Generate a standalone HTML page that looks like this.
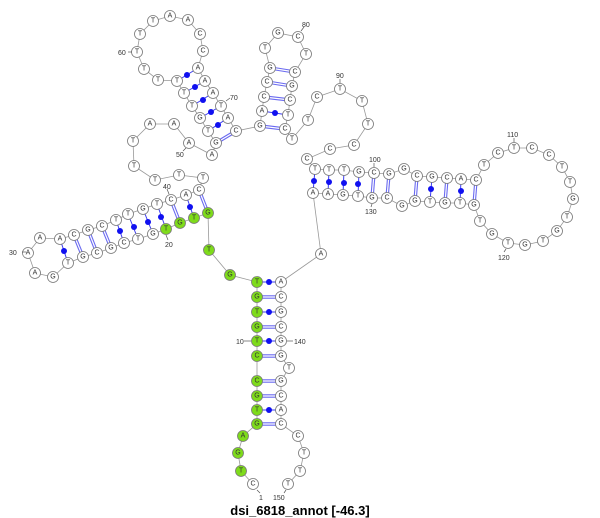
<!DOCTYPE html>
<html><head><meta charset="utf-8"><style>
body{margin:0;background:#fff;width:600px;height:518px;overflow:hidden}
svg{display:block}
.n circle{fill:#fff;stroke:#777;stroke-width:0.8}
.g circle{fill:#7edb1b;stroke:#777;stroke-width:0.8}
text{font-family:"Liberation Sans",sans-serif}
.n text,.g text{font-size:7px;text-anchor:middle;dominant-baseline:central;fill:#333}
.lb{font-size:7px;fill:#333}
.d1{stroke:#6a6af0;stroke-width:3.4}
.d2{stroke:#fff;stroke-width:1.2}
.s{stroke:#3b3bf0;stroke-width:1}
</style></head><body>
<svg width="600" height="518" viewBox="0 0 600 518">
<polyline fill="none" stroke="#999" stroke-width="0.8" points="253,484 241,471 238,453 243,436 257,424 257,410 257,396 257,381 257,356 257,341 257,327 257,312 257,297 257,282 230,275 209,250 208,213 194,218 180,223 166,229 153,234 138,239 124,243 111,248 97,253 83,257 68,263 53,277 35,273 28,253 40,238 60,239 74,235 88,230 102,226 116,220 128,214 143,209 157,204 171,200 186,195 199,190 203,178 179,175 155,180 134,166 133,141 150,124 174,124 189,143 212,155 216,143 208,131 200,118 192,106 184,93 177,81 158,80 144,69 137,52 140,34 153,21 170,16 188,20 200,34 203,51 198,68 205,81 213,93 221,106 228,118 236,131 260,126 262,111 264,97 267,82 270,68 265,48 278,33 298,37 306,54 295,72 292,86 290,100 288,115 285,129 292,139 308,120 317,97 340,89 362,101 368,124 354,145 330,149 307,159 315,169 329,170 344,170 359,172 374,173 389,174 404,169 417,176 432,177 447,178 461,179 476,180 484,165 498,153 514,148 532,148 549,155 562,167 570,182 573,199 567,217 557,231 543,241 525,245 508,243 492,234 480,221 474,205 460,203 445,203 430,202 415,201 402,206 387,198 372,198 358,196 343,195 328,194 313,193 321,254 281,282 281,297 281,312 281,327 281,341 281,356 289,368 281,381 281,396 281,410 281,424 298,436 304,453 300,471 288,484"/>
<!-- double pairs -->
<g class="d1">
<line x1="257" y1="424" x2="281" y2="424"/><line x1="257" y1="396" x2="281" y2="396"/><line x1="257" y1="381" x2="281" y2="381"/><line x1="257" y1="356" x2="281" y2="356"/><line x1="257" y1="327" x2="281" y2="327"/><line x1="257" y1="297" x2="281" y2="297"/>
<line x1="208" y1="213" x2="199" y2="190"/><line x1="180" y1="223" x2="171" y2="200"/><line x1="111" y1="248" x2="102" y2="226"/><line x1="97" y1="253" x2="88" y2="230"/><line x1="83" y1="257" x2="74" y2="235"/>
<line x1="216" y1="143" x2="236" y2="131"/>
<line x1="260" y1="126" x2="285" y2="129"/><line x1="264" y1="97" x2="290" y2="100"/><line x1="267" y1="82" x2="292" y2="86"/><line x1="270" y1="68" x2="295" y2="72"/>
<line x1="374" y1="173" x2="372" y2="198"/><line x1="389" y1="174" x2="387" y2="198"/><line x1="417" y1="176" x2="415" y2="201"/><line x1="447" y1="178" x2="445" y2="203"/><line x1="476" y1="180" x2="474" y2="205"/>
</g>
<g class="d2">
<line x1="257" y1="424" x2="281" y2="424"/><line x1="257" y1="396" x2="281" y2="396"/><line x1="257" y1="381" x2="281" y2="381"/><line x1="257" y1="356" x2="281" y2="356"/><line x1="257" y1="327" x2="281" y2="327"/><line x1="257" y1="297" x2="281" y2="297"/>
<line x1="208" y1="213" x2="199" y2="190"/><line x1="180" y1="223" x2="171" y2="200"/><line x1="111" y1="248" x2="102" y2="226"/><line x1="97" y1="253" x2="88" y2="230"/><line x1="83" y1="257" x2="74" y2="235"/>
<line x1="216" y1="143" x2="236" y2="131"/>
<line x1="260" y1="126" x2="285" y2="129"/><line x1="264" y1="97" x2="290" y2="100"/><line x1="267" y1="82" x2="292" y2="86"/><line x1="270" y1="68" x2="295" y2="72"/>
<line x1="374" y1="173" x2="372" y2="198"/><line x1="389" y1="174" x2="387" y2="198"/><line x1="417" y1="176" x2="415" y2="201"/><line x1="447" y1="178" x2="445" y2="203"/><line x1="476" y1="180" x2="474" y2="205"/>
</g>
<!-- dot pairs -->
<g class="s">
<line x1="257" y1="410" x2="281" y2="410"/><line x1="257" y1="341" x2="281" y2="341"/><line x1="257" y1="312" x2="281" y2="312"/><line x1="257" y1="282" x2="281" y2="282"/>
<line x1="194" y1="218" x2="186" y2="195"/><line x1="166" y1="229" x2="157" y2="204"/><line x1="153" y1="234" x2="143" y2="209"/><line x1="138" y1="239" x2="128" y2="214"/><line x1="124" y1="243" x2="116" y2="220"/><line x1="68" y1="263" x2="60" y2="239"/>
<line x1="208" y1="131" x2="228" y2="118"/><line x1="200" y1="118" x2="221" y2="106"/><line x1="192" y1="106" x2="213" y2="93"/><line x1="184" y1="93" x2="205" y2="81"/><line x1="177" y1="81" x2="198" y2="68"/>
<line x1="262" y1="111" x2="288" y2="115"/>
<line x1="315" y1="169" x2="313" y2="193"/><line x1="329" y1="170" x2="328" y2="194"/><line x1="344" y1="170" x2="343" y2="195"/><line x1="359" y1="172" x2="358" y2="196"/><line x1="432" y1="177" x2="430" y2="202"/><line x1="461" y1="179" x2="460" y2="203"/>
</g>
<g fill="#1010f0">
<circle cx="269" cy="410" r="3"/><circle cx="269" cy="341" r="3"/><circle cx="269" cy="312" r="3"/><circle cx="269" cy="282" r="3"/>
<circle cx="190" cy="207" r="3"/><circle cx="161" cy="217" r="3"/><circle cx="148" cy="222" r="3"/><circle cx="134" cy="227" r="3"/><circle cx="120" cy="231" r="3"/><circle cx="64" cy="251" r="3"/>
<circle cx="218" cy="125" r="3"/><circle cx="211" cy="112" r="3"/><circle cx="203" cy="100" r="3"/><circle cx="195" cy="87" r="3"/><circle cx="187" cy="75" r="3"/>
<circle cx="275" cy="113" r="3"/>
<circle cx="314" cy="181" r="3"/><circle cx="329" cy="182" r="3"/><circle cx="344" cy="183" r="3"/><circle cx="358" cy="184" r="3"/><circle cx="431" cy="189" r="3"/><circle cx="461" cy="191" r="3"/>
</g>
<!-- nodes -->
<g class="n"><circle cx="253" cy="484" r="5.5"/><text x="253" y="484">C</text></g>
<g class="g"><circle cx="241" cy="471" r="5.5"/><text x="241" y="471">T</text></g>
<g class="g"><circle cx="238" cy="453" r="5.5"/><text x="238" y="453">G</text></g>
<g class="g"><circle cx="243" cy="436" r="5.5"/><text x="243" y="436">A</text></g>
<g class="g"><circle cx="257" cy="424" r="5.5"/><text x="257" y="424">G</text></g>
<g class="g"><circle cx="257" cy="410" r="5.5"/><text x="257" y="410">T</text></g>
<g class="g"><circle cx="257" cy="396" r="5.5"/><text x="257" y="396">G</text></g>
<g class="g"><circle cx="257" cy="381" r="5.5"/><text x="257" y="381">C</text></g>
<g class="g"><circle cx="257" cy="356" r="5.5"/><text x="257" y="356">C</text></g>
<g class="g"><circle cx="257" cy="341" r="5.5"/><text x="257" y="341">T</text></g>
<g class="g"><circle cx="257" cy="327" r="5.5"/><text x="257" y="327">G</text></g>
<g class="g"><circle cx="257" cy="312" r="5.5"/><text x="257" y="312">T</text></g>
<g class="g"><circle cx="257" cy="297" r="5.5"/><text x="257" y="297">G</text></g>
<g class="g"><circle cx="257" cy="282" r="5.5"/><text x="257" y="282">T</text></g>
<g class="g"><circle cx="230" cy="275" r="5.5"/><text x="230" y="275">G</text></g>
<g class="g"><circle cx="209" cy="250" r="5.5"/><text x="209" y="250">T</text></g>
<g class="g"><circle cx="208" cy="213" r="5.5"/><text x="208" y="213">G</text></g>
<g class="g"><circle cx="194" cy="218" r="5.5"/><text x="194" y="218">T</text></g>
<g class="g"><circle cx="180" cy="223" r="5.5"/><text x="180" y="223">G</text></g>
<g class="g"><circle cx="166" cy="229" r="5.5"/><text x="166" y="229">T</text></g>
<g class="n"><circle cx="153" cy="234" r="5.5"/><text x="153" y="234">G</text></g>
<g class="n"><circle cx="138" cy="239" r="5.5"/><text x="138" y="239">T</text></g>
<g class="n"><circle cx="124" cy="243" r="5.5"/><text x="124" y="243">C</text></g>
<g class="n"><circle cx="111" cy="248" r="5.5"/><text x="111" y="248">G</text></g>
<g class="n"><circle cx="97" cy="253" r="5.5"/><text x="97" y="253">C</text></g>
<g class="n"><circle cx="83" cy="257" r="5.5"/><text x="83" y="257">G</text></g>
<g class="n"><circle cx="68" cy="263" r="5.5"/><text x="68" y="263">T</text></g>
<g class="n"><circle cx="53" cy="277" r="5.5"/><text x="53" y="277">G</text></g>
<g class="n"><circle cx="35" cy="273" r="5.5"/><text x="35" y="273">A</text></g>
<g class="n"><circle cx="28" cy="253" r="5.5"/><text x="28" y="253">A</text></g>
<g class="n"><circle cx="40" cy="238" r="5.5"/><text x="40" y="238">A</text></g>
<g class="n"><circle cx="60" cy="239" r="5.5"/><text x="60" y="239">A</text></g>
<g class="n"><circle cx="74" cy="235" r="5.5"/><text x="74" y="235">C</text></g>
<g class="n"><circle cx="88" cy="230" r="5.5"/><text x="88" y="230">G</text></g>
<g class="n"><circle cx="102" cy="226" r="5.5"/><text x="102" y="226">C</text></g>
<g class="n"><circle cx="116" cy="220" r="5.5"/><text x="116" y="220">T</text></g>
<g class="n"><circle cx="128" cy="214" r="5.5"/><text x="128" y="214">T</text></g>
<g class="n"><circle cx="143" cy="209" r="5.5"/><text x="143" y="209">G</text></g>
<g class="n"><circle cx="157" cy="204" r="5.5"/><text x="157" y="204">T</text></g>
<g class="n"><circle cx="171" cy="200" r="5.5"/><text x="171" y="200">C</text></g>
<g class="n"><circle cx="186" cy="195" r="5.5"/><text x="186" y="195">A</text></g>
<g class="n"><circle cx="199" cy="190" r="5.5"/><text x="199" y="190">C</text></g>
<g class="n"><circle cx="203" cy="178" r="5.5"/><text x="203" y="178">T</text></g>
<g class="n"><circle cx="179" cy="175" r="5.5"/><text x="179" y="175">T</text></g>
<g class="n"><circle cx="155" cy="180" r="5.5"/><text x="155" y="180">T</text></g>
<g class="n"><circle cx="134" cy="166" r="5.5"/><text x="134" y="166">T</text></g>
<g class="n"><circle cx="133" cy="141" r="5.5"/><text x="133" y="141">T</text></g>
<g class="n"><circle cx="150" cy="124" r="5.5"/><text x="150" y="124">A</text></g>
<g class="n"><circle cx="174" cy="124" r="5.5"/><text x="174" y="124">A</text></g>
<g class="n"><circle cx="189" cy="143" r="5.5"/><text x="189" y="143">A</text></g>
<g class="n"><circle cx="212" cy="155" r="5.5"/><text x="212" y="155">A</text></g>
<g class="n"><circle cx="216" cy="143" r="5.5"/><text x="216" y="143">G</text></g>
<g class="n"><circle cx="208" cy="131" r="5.5"/><text x="208" y="131">T</text></g>
<g class="n"><circle cx="200" cy="118" r="5.5"/><text x="200" y="118">G</text></g>
<g class="n"><circle cx="192" cy="106" r="5.5"/><text x="192" y="106">T</text></g>
<g class="n"><circle cx="184" cy="93" r="5.5"/><text x="184" y="93">T</text></g>
<g class="n"><circle cx="177" cy="81" r="5.5"/><text x="177" y="81">T</text></g>
<g class="n"><circle cx="158" cy="80" r="5.5"/><text x="158" y="80">T</text></g>
<g class="n"><circle cx="144" cy="69" r="5.5"/><text x="144" y="69">T</text></g>
<g class="n"><circle cx="137" cy="52" r="5.5"/><text x="137" y="52">T</text></g>
<g class="n"><circle cx="140" cy="34" r="5.5"/><text x="140" y="34">T</text></g>
<g class="n"><circle cx="153" cy="21" r="5.5"/><text x="153" y="21">T</text></g>
<g class="n"><circle cx="170" cy="16" r="5.5"/><text x="170" y="16">A</text></g>
<g class="n"><circle cx="188" cy="20" r="5.5"/><text x="188" y="20">A</text></g>
<g class="n"><circle cx="200" cy="34" r="5.5"/><text x="200" y="34">C</text></g>
<g class="n"><circle cx="203" cy="51" r="5.5"/><text x="203" y="51">C</text></g>
<g class="n"><circle cx="198" cy="68" r="5.5"/><text x="198" y="68">A</text></g>
<g class="n"><circle cx="205" cy="81" r="5.5"/><text x="205" y="81">A</text></g>
<g class="n"><circle cx="213" cy="93" r="5.5"/><text x="213" y="93">A</text></g>
<g class="n"><circle cx="221" cy="106" r="5.5"/><text x="221" y="106">T</text></g>
<g class="n"><circle cx="228" cy="118" r="5.5"/><text x="228" y="118">A</text></g>
<g class="n"><circle cx="236" cy="131" r="5.5"/><text x="236" y="131">C</text></g>
<g class="n"><circle cx="260" cy="126" r="5.5"/><text x="260" y="126">G</text></g>
<g class="n"><circle cx="262" cy="111" r="5.5"/><text x="262" y="111">A</text></g>
<g class="n"><circle cx="264" cy="97" r="5.5"/><text x="264" y="97">C</text></g>
<g class="n"><circle cx="267" cy="82" r="5.5"/><text x="267" y="82">C</text></g>
<g class="n"><circle cx="270" cy="68" r="5.5"/><text x="270" y="68">G</text></g>
<g class="n"><circle cx="265" cy="48" r="5.5"/><text x="265" y="48">T</text></g>
<g class="n"><circle cx="278" cy="33" r="5.5"/><text x="278" y="33">G</text></g>
<g class="n"><circle cx="298" cy="37" r="5.5"/><text x="298" y="37">C</text></g>
<g class="n"><circle cx="306" cy="54" r="5.5"/><text x="306" y="54">T</text></g>
<g class="n"><circle cx="295" cy="72" r="5.5"/><text x="295" y="72">C</text></g>
<g class="n"><circle cx="292" cy="86" r="5.5"/><text x="292" y="86">G</text></g>
<g class="n"><circle cx="290" cy="100" r="5.5"/><text x="290" y="100">C</text></g>
<g class="n"><circle cx="288" cy="115" r="5.5"/><text x="288" y="115">T</text></g>
<g class="n"><circle cx="285" cy="129" r="5.5"/><text x="285" y="129">C</text></g>
<g class="n"><circle cx="292" cy="139" r="5.5"/><text x="292" y="139">T</text></g>
<g class="n"><circle cx="308" cy="120" r="5.5"/><text x="308" y="120">T</text></g>
<g class="n"><circle cx="317" cy="97" r="5.5"/><text x="317" y="97">C</text></g>
<g class="n"><circle cx="340" cy="89" r="5.5"/><text x="340" y="89">T</text></g>
<g class="n"><circle cx="362" cy="101" r="5.5"/><text x="362" y="101">T</text></g>
<g class="n"><circle cx="368" cy="124" r="5.5"/><text x="368" y="124">T</text></g>
<g class="n"><circle cx="354" cy="145" r="5.5"/><text x="354" y="145">C</text></g>
<g class="n"><circle cx="330" cy="149" r="5.5"/><text x="330" y="149">C</text></g>
<g class="n"><circle cx="307" cy="159" r="5.5"/><text x="307" y="159">C</text></g>
<g class="n"><circle cx="315" cy="169" r="5.5"/><text x="315" y="169">T</text></g>
<g class="n"><circle cx="329" cy="170" r="5.5"/><text x="329" y="170">T</text></g>
<g class="n"><circle cx="344" cy="170" r="5.5"/><text x="344" y="170">T</text></g>
<g class="n"><circle cx="359" cy="172" r="5.5"/><text x="359" y="172">G</text></g>
<g class="n"><circle cx="374" cy="173" r="5.5"/><text x="374" y="173">C</text></g>
<g class="n"><circle cx="389" cy="174" r="5.5"/><text x="389" y="174">G</text></g>
<g class="n"><circle cx="404" cy="169" r="5.5"/><text x="404" y="169">G</text></g>
<g class="n"><circle cx="417" cy="176" r="5.5"/><text x="417" y="176">C</text></g>
<g class="n"><circle cx="432" cy="177" r="5.5"/><text x="432" y="177">G</text></g>
<g class="n"><circle cx="447" cy="178" r="5.5"/><text x="447" y="178">C</text></g>
<g class="n"><circle cx="461" cy="179" r="5.5"/><text x="461" y="179">A</text></g>
<g class="n"><circle cx="476" cy="180" r="5.5"/><text x="476" y="180">C</text></g>
<g class="n"><circle cx="484" cy="165" r="5.5"/><text x="484" y="165">T</text></g>
<g class="n"><circle cx="498" cy="153" r="5.5"/><text x="498" y="153">C</text></g>
<g class="n"><circle cx="514" cy="148" r="5.5"/><text x="514" y="148">T</text></g>
<g class="n"><circle cx="532" cy="148" r="5.5"/><text x="532" y="148">C</text></g>
<g class="n"><circle cx="549" cy="155" r="5.5"/><text x="549" y="155">C</text></g>
<g class="n"><circle cx="562" cy="167" r="5.5"/><text x="562" y="167">T</text></g>
<g class="n"><circle cx="570" cy="182" r="5.5"/><text x="570" y="182">T</text></g>
<g class="n"><circle cx="573" cy="199" r="5.5"/><text x="573" y="199">G</text></g>
<g class="n"><circle cx="567" cy="217" r="5.5"/><text x="567" y="217">T</text></g>
<g class="n"><circle cx="557" cy="231" r="5.5"/><text x="557" y="231">G</text></g>
<g class="n"><circle cx="543" cy="241" r="5.5"/><text x="543" y="241">T</text></g>
<g class="n"><circle cx="525" cy="245" r="5.5"/><text x="525" y="245">G</text></g>
<g class="n"><circle cx="508" cy="243" r="5.5"/><text x="508" y="243">T</text></g>
<g class="n"><circle cx="492" cy="234" r="5.5"/><text x="492" y="234">G</text></g>
<g class="n"><circle cx="480" cy="221" r="5.5"/><text x="480" y="221">T</text></g>
<g class="n"><circle cx="474" cy="205" r="5.5"/><text x="474" y="205">G</text></g>
<g class="n"><circle cx="460" cy="203" r="5.5"/><text x="460" y="203">T</text></g>
<g class="n"><circle cx="445" cy="203" r="5.5"/><text x="445" y="203">G</text></g>
<g class="n"><circle cx="430" cy="202" r="5.5"/><text x="430" y="202">T</text></g>
<g class="n"><circle cx="415" cy="201" r="5.5"/><text x="415" y="201">G</text></g>
<g class="n"><circle cx="402" cy="206" r="5.5"/><text x="402" y="206">G</text></g>
<g class="n"><circle cx="387" cy="198" r="5.5"/><text x="387" y="198">C</text></g>
<g class="n"><circle cx="372" cy="198" r="5.5"/><text x="372" y="198">G</text></g>
<g class="n"><circle cx="358" cy="196" r="5.5"/><text x="358" y="196">T</text></g>
<g class="n"><circle cx="343" cy="195" r="5.5"/><text x="343" y="195">G</text></g>
<g class="n"><circle cx="328" cy="194" r="5.5"/><text x="328" y="194">A</text></g>
<g class="n"><circle cx="313" cy="193" r="5.5"/><text x="313" y="193">A</text></g>
<g class="n"><circle cx="321" cy="254" r="5.5"/><text x="321" y="254">A</text></g>
<g class="n"><circle cx="281" cy="282" r="5.5"/><text x="281" y="282">A</text></g>
<g class="n"><circle cx="281" cy="297" r="5.5"/><text x="281" y="297">C</text></g>
<g class="n"><circle cx="281" cy="312" r="5.5"/><text x="281" y="312">G</text></g>
<g class="n"><circle cx="281" cy="327" r="5.5"/><text x="281" y="327">C</text></g>
<g class="n"><circle cx="281" cy="341" r="5.5"/><text x="281" y="341">G</text></g>
<g class="n"><circle cx="281" cy="356" r="5.5"/><text x="281" y="356">G</text></g>
<g class="n"><circle cx="289" cy="368" r="5.5"/><text x="289" y="368">T</text></g>
<g class="n"><circle cx="281" cy="381" r="5.5"/><text x="281" y="381">G</text></g>
<g class="n"><circle cx="281" cy="396" r="5.5"/><text x="281" y="396">C</text></g>
<g class="n"><circle cx="281" cy="410" r="5.5"/><text x="281" y="410">A</text></g>
<g class="n"><circle cx="281" cy="424" r="5.5"/><text x="281" y="424">C</text></g>
<g class="n"><circle cx="298" cy="436" r="5.5"/><text x="298" y="436">C</text></g>
<g class="n"><circle cx="304" cy="453" r="5.5"/><text x="304" y="453">T</text></g>
<g class="n"><circle cx="300" cy="471" r="5.5"/><text x="300" y="471">T</text></g>
<g class="n"><circle cx="288" cy="484" r="5.5"/><text x="288" y="484">T</text></g>
<!-- index labels with ticks -->
<g stroke="#555" stroke-width="0.7">
<line x1="244" y1="341" x2="251" y2="341"/><line x1="287" y1="341" x2="293" y2="341"/>
<line x1="22" y1="252" x2="26" y2="252"/><line x1="166" y1="235" x2="168" y2="240"/>
<line x1="169" y1="194" x2="167" y2="189"/><line x1="183" y1="151" x2="186" y2="148"/>
<line x1="128" y1="52" x2="132" y2="52"/><line x1="226" y1="101" x2="230" y2="98"/>
<line x1="301" y1="31" x2="304" y2="27"/><line x1="340" y1="83" x2="340" y2="79"/>
<line x1="374" y1="167" x2="374" y2="163"/><line x1="514" y1="142" x2="514" y2="138"/>
<line x1="506" y1="249" x2="504" y2="252"/><line x1="372" y1="204" x2="371" y2="207"/>
<line x1="257" y1="490" x2="260" y2="493"/><line x1="286" y1="490" x2="284" y2="493"/>
</g>
<g class="lb">
<text x="236" y="344">10</text><text x="294" y="344">140</text>
<text x="9" y="255">30</text><text x="165" y="247">20</text>
<text x="163" y="189">40</text><text x="176" y="157">50</text>
<text x="118" y="55">60</text><text x="230" y="100">70</text>
<text x="302" y="27">80</text><text x="336" y="78">90</text>
<text x="369" y="162">100</text><text x="507" y="137">110</text>
<text x="498" y="260">120</text><text x="365" y="214">130</text>
<text x="259" y="500">1</text><text x="273" y="500">150</text>
</g>
<text x="300" y="515" text-anchor="middle" font-size="13" font-weight="bold" fill="#000">dsi_6818_annot [-46.3]</text>
</svg>
</body></html>
